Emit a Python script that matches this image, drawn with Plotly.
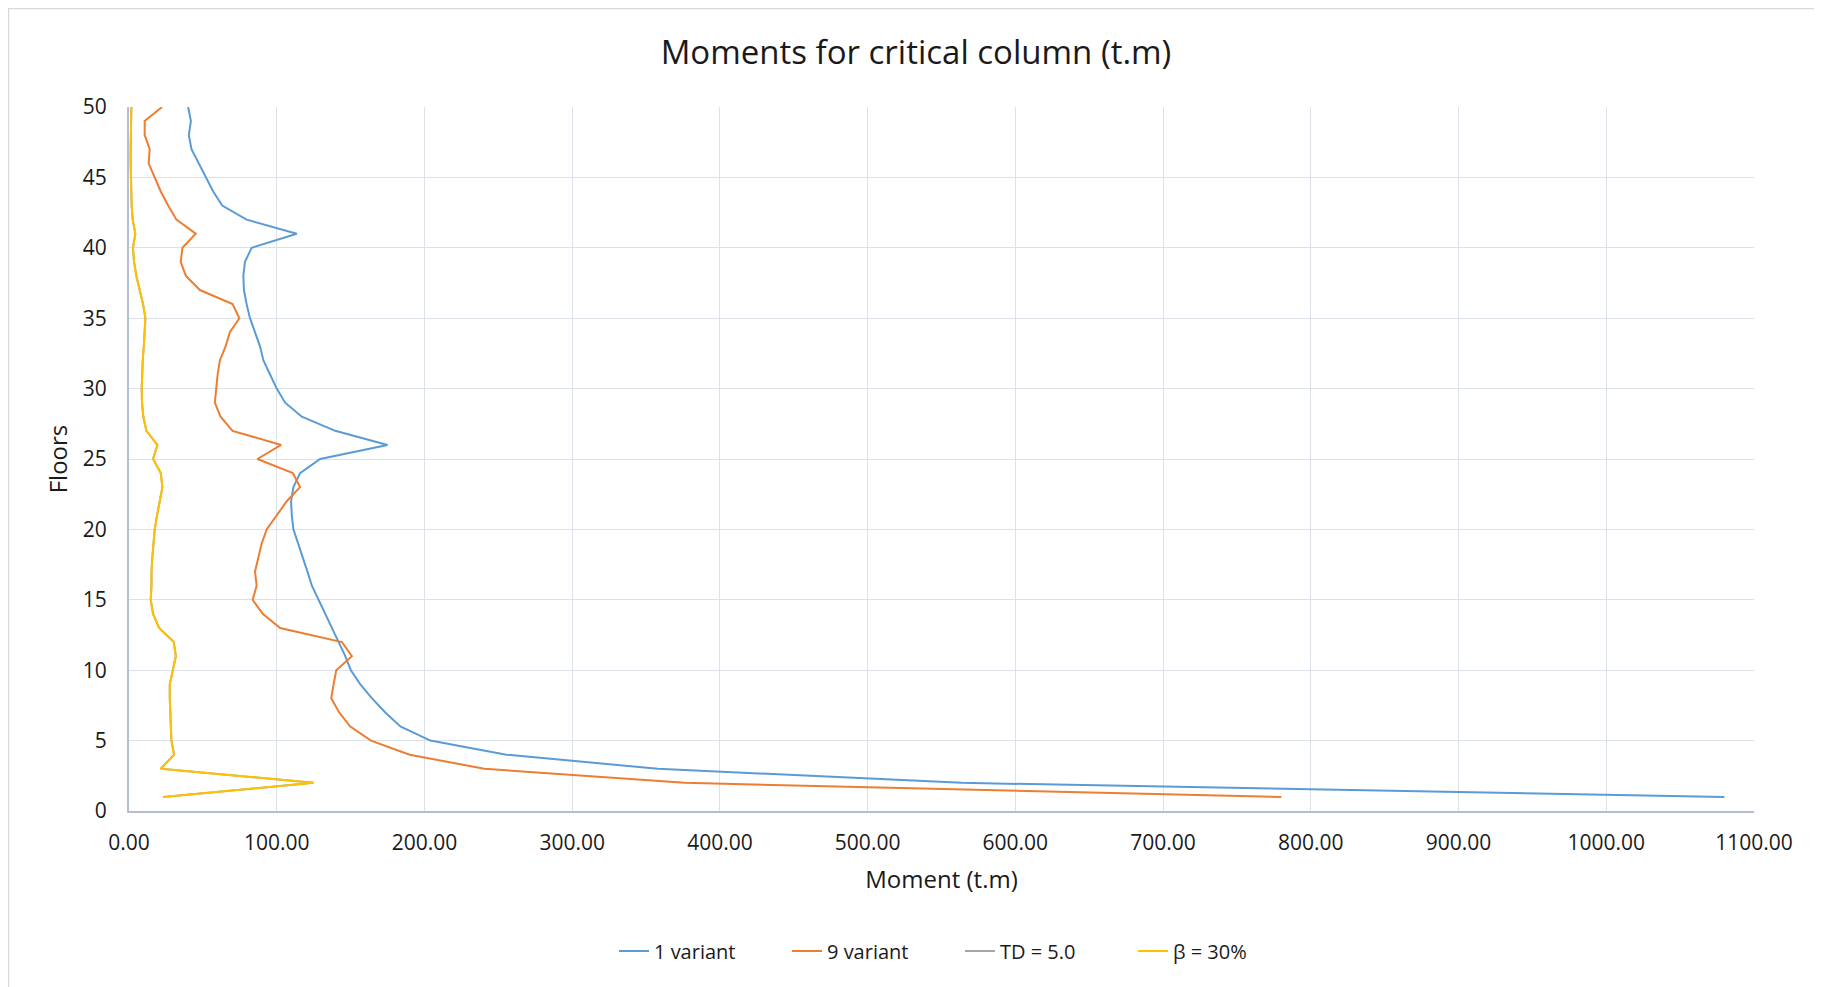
import plotly.graph_objects as go

floors = list(range(1, 51))

variant_1 = [1080, 563.7, 358, 255.5, 204, 183.7, 173.5, 164.5, 156.6, 150.2,
             146.4, 141.9, 137.3, 133, 128.3, 123.8, 120.8, 117.6, 114.7, 111.3,
             110.2, 109.7, 111.3, 115.8, 129.4, 175, 139.6, 117, 105.7, 100,
             95.5, 91, 88.7, 85.3, 81.9, 79.6, 77.8, 77.4, 78.5, 83,
             113.6, 79.6, 63.1, 57, 52, 47.3, 42.3, 40.5, 41.9, 40.0]

variant_9 = [780, 376, 240.5, 190, 163.8, 149.8, 142.3, 136.9, 138.5, 140.3,
             150.9, 144.1, 102.3, 90.5, 83.7, 86.4, 85.3, 87.6, 89.8, 93.2,
             100, 106.8, 115.8, 110.9, 86.9, 103, 70.1, 62, 58.1, 58.8,
             60, 61.5, 65.4, 68.3, 74.7, 70.1, 48, 38.5, 35, 36.2,
             45.2, 32.1, 26.5, 21.5, 17.4, 13.3, 14, 10.6, 10.6, 22.4]

td_5 = [23.1, 124.9, 21.5, 30.5, 28.7, 28.3, 27.8, 27.6, 27.6, 29.4,
        31.7, 30.3, 20.4, 16.3, 14.7, 15.2, 15.2, 15.8, 16.7, 17.4,
        19, 20.8, 22.6, 21.5, 16.3, 19.2, 11.8, 9.7, 8.8, 8.6,
        8.8, 9.3, 10, 10.4, 11.1, 9.5, 7.2, 5, 3.4, 2.7,
        4.3, 2.5, 1.8, 1.4, 1.1, 1.1, 1.1, 1.1, 1.4, 1.6]

beta_30 = [23.1, 124.9, 21.5, 30.5, 28.7, 28.3, 27.8, 27.6, 27.6, 29.4,
           31.7, 30.3, 20.4, 16.3, 14.7, 15.2, 15.2, 15.8, 16.7, 17.4,
           19, 20.8, 22.6, 21.5, 16.3, 19.2, 11.8, 9.7, 8.8, 8.6,
           8.8, 9.3, 10, 10.4, 11.1, 9.5, 7.2, 5, 3.4, 2.7,
           4.3, 2.5, 1.8, 1.4, 1.1, 1.1, 1.1, 1.1, 1.4, 1.6]

series_names = ["1 variant", "9 variant", "TD = 5.0", "β = 30%"]
series_values = [variant_1, variant_9, td_5, beta_30]
series_colors = ["#5B9BD5", "#ED7D31", "#A5A5A5", "#FFC000"]

x_ticks = list(range(0, 1101, 100))
y_ticks = list(range(0, 51, 5))

FONT = "Open Sans"
TXT = "#1a1a1a"

fig = go.Figure()
for name, vals, col in zip(series_names, series_values, series_colors):
    fig.add_trace(go.Scatter(x=vals, y=floors, mode="lines", name=name,
                             line=dict(color=col, width=2)))

# page body has an 8px margin; work in figure coords = screen - 8
OFF = 8
W, H = 1822 - OFF, 987 - OFF
L, R, T, B = 129 - OFF, 1822 - 1754, 107 - OFF, 987 - 811
pw, ph = W - L - R, H - T - B


def px_x(p):
    return (p - OFF - L) / pw


def px_y(p):
    return (H - B - (p - OFF)) / ph


fig.update_layout(
    width=W, height=H,
    margin=dict(l=L, r=R, t=T, b=B, autoexpand=False),
    paper_bgcolor="white", plot_bgcolor="white",
    font=dict(family=FONT, color=TXT, size=21),
    title=dict(text="Moments for critical column (t.m)", x=(916 - OFF) / W, xanchor="center",
               y=1 - (52 - OFF) / H, yanchor="middle", font=dict(size=33, family=FONT, color=TXT)),
    showlegend=True,
    legend=dict(orientation="h", x=px_x(614), xanchor="left", y=px_y(951), yanchor="middle",
                font=dict(size=20, family=FONT, color=TXT), traceorder="normal",
                itemwidth=30, entrywidth=128, entrywidthmode="pixels"),
    shapes=[dict(type="rect", xref="paper", yref="paper",
                 x0=px_x(8.5), x1=px_x(1840), y0=px_y(1000), y1=px_y(8.5),
                 line=dict(color="#D9D9D9", width=1.5), fillcolor="rgba(0,0,0,0)", layer="below")],
)

fig.update_xaxes(range=[0, 1100], tickvals=x_ticks, tickformat=".2f",
                 showgrid=True, gridcolor="#DCE1E9", gridwidth=1.3,
                 showline=True, linecolor="#B4BED0", linewidth=2, zeroline=False,
                 ticks="", ticklabelstandoff=12,
                 title=dict(text="Moment (t.m)", font=dict(size=24, family=FONT, color=TXT), standoff=16))
fig.update_yaxes(range=[0, 50], tickvals=y_ticks,
                 showgrid=True, gridcolor="#DCE1E9", gridwidth=1.3,
                 showline=True, linecolor="#B4BED0", linewidth=2, zeroline=False,
                 ticks="", ticklabelstandoff=16,
                 title=dict(text="Floors", font=dict(size=24, family=FONT, color=TXT), standoff=8))

fig.write_html("out.html")
